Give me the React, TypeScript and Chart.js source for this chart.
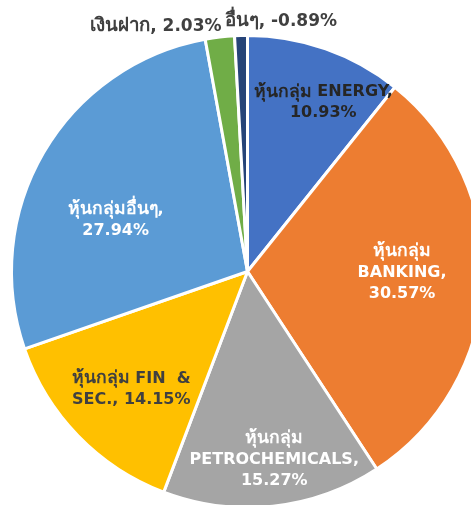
import React, { useEffect, useRef } from "react";
import { Chart, registerables } from "chart.js";

Chart.register(...registerables);

const categories = [
  "หุ้นกลุ่ม ENERGY",
  "หุ้นกลุ่ม BANKING",
  "หุ้นกลุ่ม PETROCHEMICALS",
  "หุ้นกลุ่ม FIN & SEC.",
  "หุ้นกลุ่มอื่นๆ",
  "เงินฝาก",
  "อื่นๆ",
];
const percentValues = [10.93, 30.57, 15.27, 14.15, 27.94, 2.03, -0.89];
const sliceColors = ["#4472C4", "#ED7D31", "#A5A5A5", "#FFC000", "#5B9BD5", "#70AD47", "#264478"];

// label text lines as shown in the chart
const labelLines = [
  ["หุ้นกลุ่ม ENERGY,", "10.93%"],
  ["หุ้นกลุ่ม", "BANKING,", "30.57%"],
  ["หุ้นกลุ่ม", "PETROCHEMICALS,", "15.27%"],
  ["หุ้นกลุ่ม FIN  &", "SEC., 14.15%"],
  ["หุ้นกลุ่มอื่นๆ,", "27.94%"],
  ["เงินฝาก, 2.03%"],
  ["อื่นๆ, -0.89%"],
];
const labelColors = ["#262626", "#FFFFFF", "#FFFFFF", "#404040", "#FFFFFF", "#404040", "#404040"];
// label placement: radial fraction and angular nudge (deg) relative to slice middle
const labelRadius = [0.785, 0.655, 0.805, 0.7, 0.6, 1.045, 1.06];
const labelAngleNudge = [4.8, -2.4, -1.9, -1.1, -8.9, 0, 0];
const labelAlign = ["center", "center", "center", "center", "center", "right", "left"];
const labelXNudge = [0, 0, 0, 0, 0, 3, -16];
const labelSize = [16, 16, 16, 16, 16, 17, 17];

const FAMILY = "Tahoma, 'DejaVu Sans', 'Noto Sans', sans-serif";
const THAI_SCALE = 1.1;
const LINE_H = 21;

function splitRuns(s: string) {
  const runs: { t: string; thai: boolean }[] = [];
  for (const ch of s) {
    const c = ch.codePointAt(0)!;
    const thai = c >= 0x0e00 && c <= 0x0e7f;
    const last = runs[runs.length - 1];
    if (last && last.thai === thai) last.t += ch;
    else runs.push({ t: ch, thai });
  }
  return runs;
}

const labelPlugin = {
  id: "sliceLabels",
  afterDatasetsDraw(chart: any) {
    const ctx = chart.ctx as CanvasRenderingContext2D;
    const meta = chart.getDatasetMeta(0);
    ctx.save();
    ctx.textBaseline = "middle";
    ctx.textAlign = "left";
    meta.data.forEach((arc: any, i: number) => {
      const { x, y, startAngle, endAngle, outerRadius } = arc.getProps(
        ["x", "y", "startAngle", "endAngle", "outerRadius"],
        true
      );
      const mid = (startAngle + endAngle) / 2 + (labelAngleNudge[i] * Math.PI) / 180;
      const r = outerRadius * labelRadius[i];
      const cx = x + Math.cos(mid) * r + labelXNudge[i];
      const cy = y + Math.sin(mid) * r;
      const lines = labelLines[i];
      const size = labelSize[i];
      const fontFor = (thai: boolean) => `bold ${thai ? size * THAI_SCALE : size}px ${FAMILY}`;
      ctx.fillStyle = labelColors[i];
      const top = cy - ((lines.length - 1) * LINE_H) / 2;
      lines.forEach((ln, k) => {
        const runs = splitRuns(ln);
        const widths = runs.map((rn) => {
          ctx.font = fontFor(rn.thai);
          return ctx.measureText(rn.t).width;
        });
        const total = widths.reduce((a, b) => a + b, 0);
        let sx = cx;
        if (labelAlign[i] === "center") sx = cx - total / 2;
        else if (labelAlign[i] === "right") sx = cx - total;
        const ly = top + k * LINE_H;
        runs.forEach((rn, j) => {
          ctx.font = fontFor(rn.thai);
          ctx.fillText(rn.t, sx, ly);
          sx += widths[j];
        });
      });
    });
    ctx.restore();
  },
};

export default function App() {
  const ref = useRef<HTMLCanvasElement>(null);
  useEffect(() => {
    const canvas = ref.current!;
    const chart = new Chart(canvas, {
      type: "pie",
      data: {
        labels: categories,
        datasets: [
          {
            data: percentValues.map((v) => Math.abs(v)),
            backgroundColor: sliceColors,
            borderColor: "#FFFFFF",
            borderWidth: 3,
            hoverOffset: 0,
          },
        ],
      },
      options: {
        responsive: false,
        animation: false,
        layout: { padding: { left: 10, right: 11, top: 34, bottom: 1 } },
        plugins: { legend: { display: false }, tooltip: { enabled: false } },
      },
      plugins: [labelPlugin],
    });
    return () => chart.destroy();
  }, []);
  return (
    <div style={{ position: "fixed", left: 0, top: 0, width: 471, height: 505, overflow: "hidden", background: "#fff" }}>
      <canvas ref={ref} width={496} height={510} style={{ width: 496, height: 510, display: "block" }} />
    </div>
  );
}
